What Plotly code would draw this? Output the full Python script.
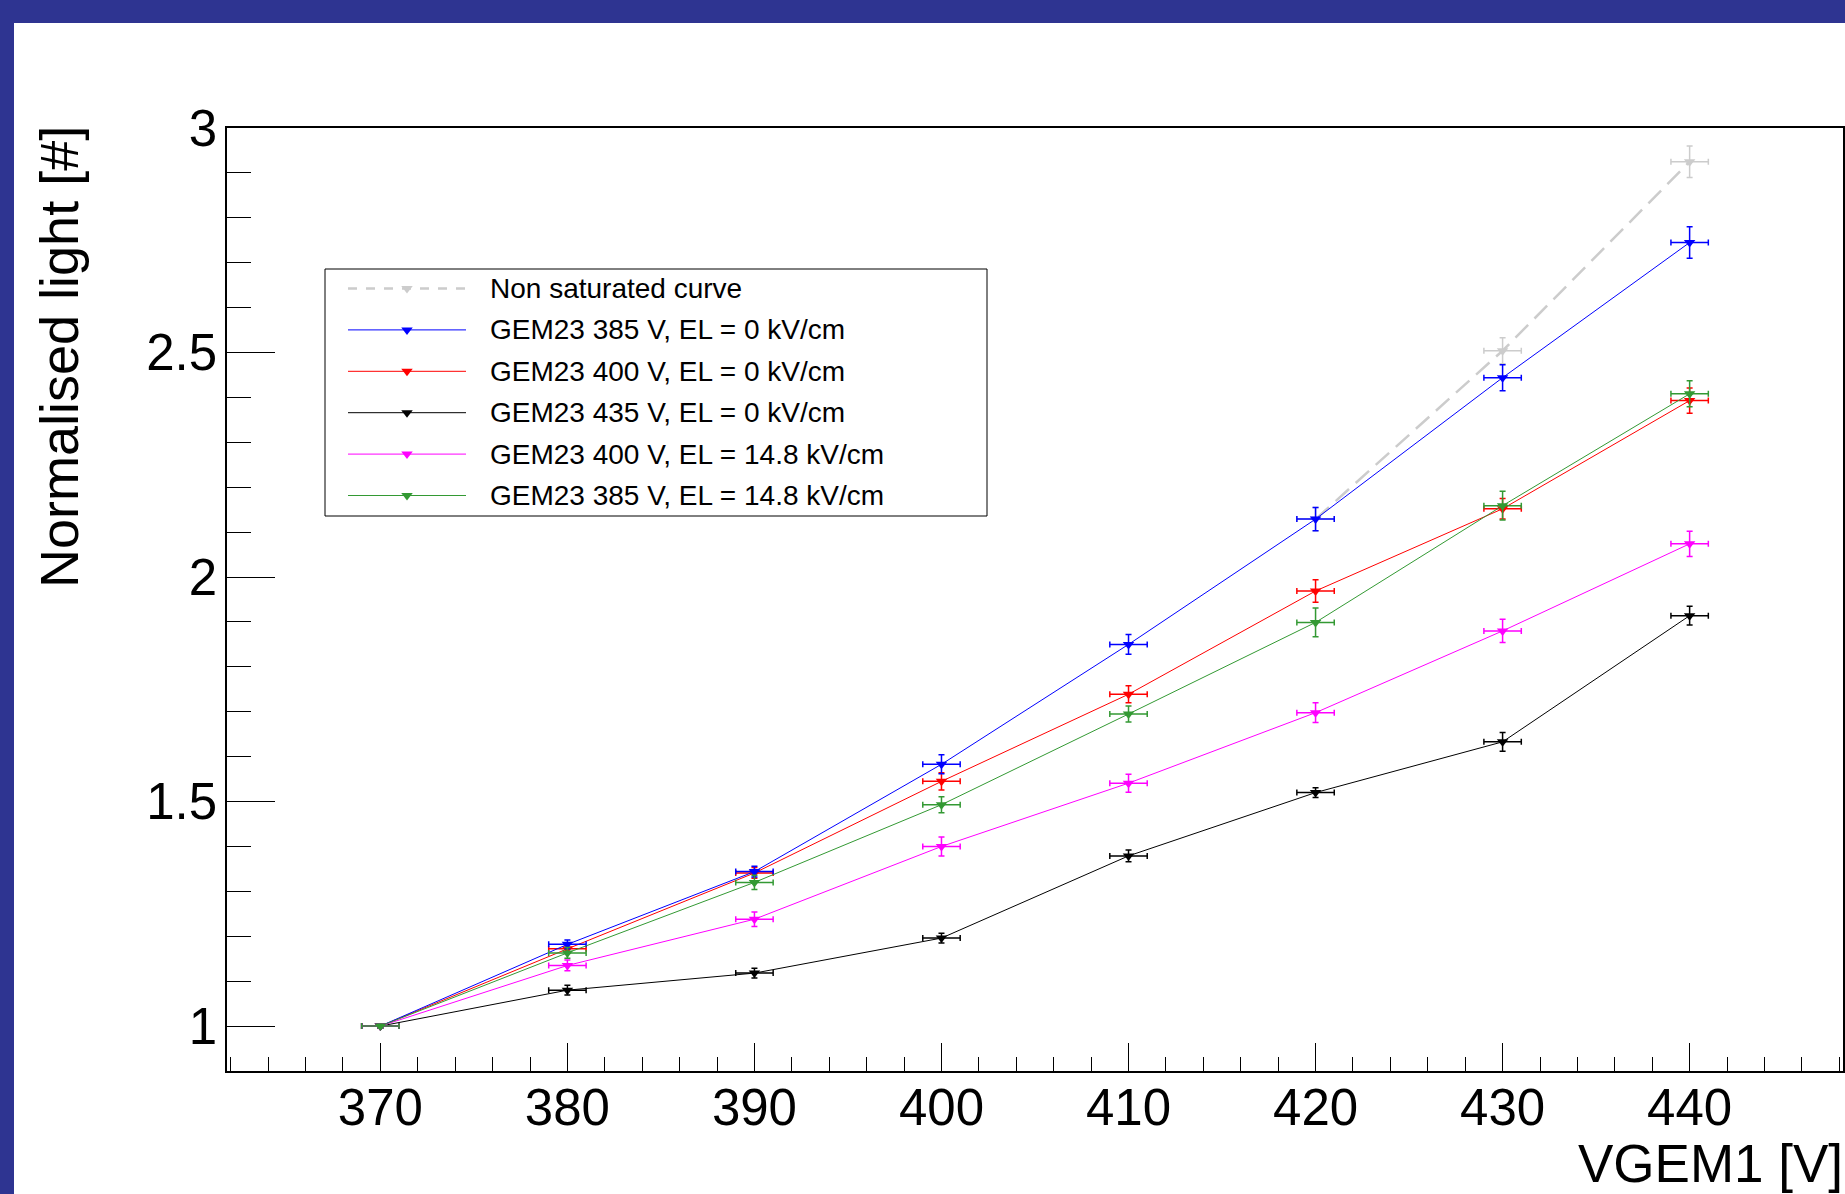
import plotly.graph_objects as go

# ---------------- data ----------------
vgem1 = [370, 380, 390, 400, 410, 420, 430, 440]
vgem1_err = [1, 1, 1, 1, 1, 1, 1, 1]

gem385_el0 = [1.000, 1.182, 1.344, 1.583, 1.850, 2.129, 2.444, 2.745]
gem385_el0_err = [0.004, 0.010, 0.012, 0.021, 0.022, 0.026, 0.029, 0.035]

gem400_el0 = [1.000, 1.172, 1.341, 1.545, 1.739, 1.969, 2.152, 2.393]
gem400_el0_err = [0.004, 0.010, 0.012, 0.019, 0.019, 0.025, 0.023, 0.028]

gem435_el0 = [1.000, 1.080, 1.118, 1.196, 1.379, 1.520, 1.633, 1.914]
gem435_el0_err = [0.004, 0.011, 0.011, 0.011, 0.013, 0.011, 0.021, 0.021]

gem400_el148 = [1.000, 1.135, 1.238, 1.400, 1.541, 1.698, 1.880, 2.074]
gem400_el148_err = [0.004, 0.012, 0.016, 0.021, 0.020, 0.022, 0.026, 0.028]

gem385_el148 = [1.000, 1.163, 1.320, 1.493, 1.695, 1.899, 2.159, 2.408]
gem385_el148_err = [0.004, 0.012, 0.016, 0.018, 0.018, 0.032, 0.032, 0.029]

nonsat_x = [420, 430, 440]
nonsat_x_err = [1, 1, 1]
nonsat = [2.129, 2.504, 2.925]
nonsat_err = [0.026, 0.029, 0.035]

legend_labels = [
    "Non saturated curve",
    "GEM23 385 V, EL = 0 kV/cm",
    "GEM23 400 V, EL = 0 kV/cm",
    "GEM23 435 V, EL = 0 kV/cm",
    "GEM23 400 V, EL = 14.8 kV/cm",
    "GEM23 385 V, EL = 14.8 kV/cm",
]

GRAY = "#cccccc"
BLUE = "#0000ff"
RED = "#ff0000"
BLACK = "#000000"
MAGENTA = "#ff00ff"
GREEN = "#339933"
FRAME_BLUE = "#2e3491"
FONT = "Liberation Sans, Arial, sans-serif"

# ---------------- geometry (page pixels) ----------------
PAGE_W, PAGE_H = 1845, 1194
L, R, T, B = 227, 1843, 128, 1071
PW, PH = R - L, B - T


def px(X):
    return (X - L) / PW


def py(Y):
    return (B - Y) / PH


fig = go.Figure()


def add_series(xv, xe, yv, ye, color, lw=1, dash=None):
    fig.add_trace(go.Scatter(
        x=xv, y=yv, mode="lines+markers",
        line=dict(color=color, width=lw, dash=dash),
        marker=dict(symbol="triangle-down", size=10, color=color),
        error_x=dict(type="data", array=xe, color=color, thickness=1.5, width=3),
        error_y=dict(type="data", array=ye, color=color, thickness=1.5, width=3),
        showlegend=False, hoverinfo="x+y",
    ))


add_series(nonsat_x, nonsat_x_err, nonsat, nonsat_err, GRAY, lw=2.5, dash="18px,9px")
add_series(vgem1, vgem1_err, gem400_el0, gem400_el0_err, RED)
add_series(vgem1, vgem1_err, gem385_el0, gem385_el0_err, BLUE)
add_series(vgem1, vgem1_err, gem435_el0, gem435_el0_err, BLACK)
add_series(vgem1, vgem1_err, gem400_el148, gem400_el148_err, MAGENTA)
add_series(vgem1, vgem1_err, gem385_el148, gem385_el148_err, GREEN)

# ---------------- custom legend (ROOT style) ----------------
shapes = []
annotations = []
leg_colors = [GRAY, BLUE, RED, BLACK, MAGENTA, GREEN]
LEG_L, LEG_R, LEG_T, LEG_B = 325, 987, 269, 516
shapes.append(dict(type="rect", xref="paper", yref="paper",
                   x0=px(LEG_L), x1=px(LEG_R), y0=py(LEG_B), y1=py(LEG_T),
                   line=dict(color="black", width=1), fillcolor="white", layer="below"))
mx, my = [], []
for i, (lab, col) in enumerate(zip(legend_labels, leg_colors)):
    yc = 288.5 + 41.4 * i
    shapes.append(dict(type="line", xref="paper", yref="paper",
                       x0=px(348), x1=px(466), y0=py(yc), y1=py(yc),
                       line=dict(color=col, width=2.5 if i == 0 else 1,
                                 dash="dash" if i == 0 else "solid"),
                       layer="below"))
    annotations.append(dict(xref="paper", yref="paper", x=px(488), y=py(yc),
                            text=lab, showarrow=False, xanchor="left", yanchor="middle",
                            font=dict(size=28, color="black", family=FONT)))
    mx.append(px(407))
    my.append(py(yc))

fig.add_trace(go.Scatter(x=mx, y=my, xaxis="x2", yaxis="y2", mode="markers",
                         marker=dict(symbol="triangle-down", size=10, color=leg_colors),
                         showlegend=False, hoverinfo="skip"))

# blue frame of the slide
shapes.append(dict(type="rect", xref="paper", yref="paper",
                   x0=px(0), x1=px(PAGE_W), y0=py(23), y1=py(0),
                   line=dict(width=0), fillcolor=FRAME_BLUE, layer="above"))
shapes.append(dict(type="rect", xref="paper", yref="paper",
                   x0=px(0), x1=px(14), y0=py(PAGE_H), y1=py(0),
                   line=dict(width=0), fillcolor=FRAME_BLUE, layer="above"))

# axis titles
annotations.append(dict(xref="paper", yref="paper", x=px(59), y=py(124),
                        text="Normalised light [#]", textangle=-90, showarrow=False,
                        xanchor="center", yanchor="top",
                        font=dict(size=54, color="black", family=FONT)))
annotations.append(dict(xref="paper", yref="paper", x=px(1845), y=py(1163),
                        text="VGEM1 [V]", showarrow=False,
                        xanchor="right", yanchor="middle",
                        font=dict(size=53, color="black", family=FONT)))

axis_common = dict(showgrid=False, zeroline=False, showline=True, mirror=True,
                   linecolor="black", linewidth=1.5, ticks="inside", tickcolor="black",
                   tickwidth=1, automargin=False,
                   tickfont=dict(size=51, color="black", family=FONT))

fig.update_layout(
    width=PAGE_W, height=PAGE_H,
    margin=dict(l=L, r=PAGE_W - R, t=T, b=PAGE_H - B),
    paper_bgcolor="white", plot_bgcolor="white",
    font=dict(family=FONT, color="black"),
    showlegend=False,
    xaxis=dict(range=[361.8, 448.2], dtick=10, tick0=370, ticklen=28,
               minor=dict(ticks="inside", ticklen=14, dtick=2, tick0=370,
                          tickcolor="black", tickwidth=1, showgrid=False),
               ticklabelstandoff=-9,
               **axis_common),
    yaxis=dict(range=[0.9, 3.0], dtick=0.5, tick0=1, ticklen=48,
               minor=dict(ticks="inside", ticklen=24, dtick=0.1, tick0=1,
                          tickcolor="black", tickwidth=1, showgrid=False),
               ticklabelstandoff=-2,
               **axis_common),
    xaxis2=dict(domain=[0, 1], range=[0, 1], overlaying="x", anchor="y2", visible=False,
                fixedrange=True),
    yaxis2=dict(domain=[0, 1], range=[0, 1], overlaying="y", anchor="x2", visible=False,
                fixedrange=True),
    shapes=shapes,
    annotations=annotations,
)

fig.write_html("out.html")
